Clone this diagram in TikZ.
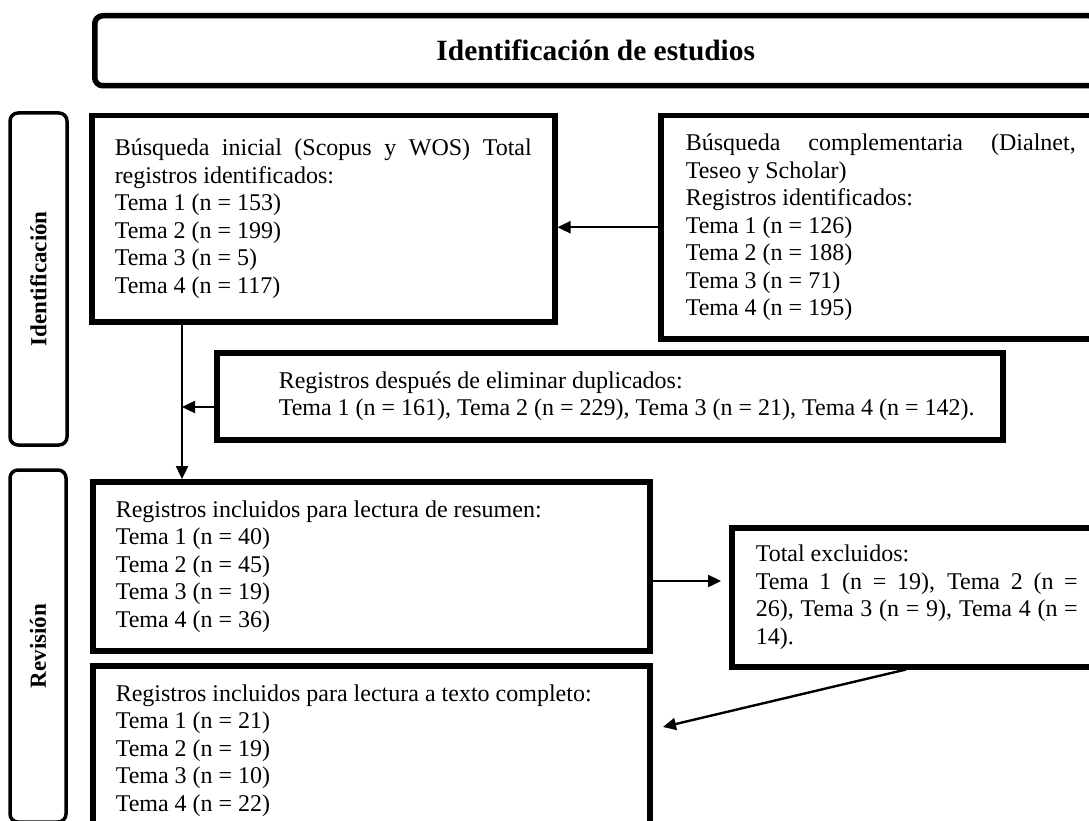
\documentclass[tikz,border=0pt]{standalone}
\usepackage{fontspec}
\setmainfont{Liberation Serif}
\usetikzlibrary{arrows.meta,calc}
\newcommand{\jline}[2]{\makebox[#1][s]{\spaceskip=0pt\xspaceskip=0pt\relax #2}}

\begin{document}
\begin{tikzpicture}[x=1pt, y=-1pt,
  caja/.style={draw, line width=5.5pt, rectangle, anchor=north west, inner ysep=0pt, font=\fontsize{24}{27.5}\selectfont,
    execute at begin node={\spaceskip=0pt\xspaceskip=0pt\relax}},
  fase/.style={draw, line width=3.5pt, rounded corners=8pt, rotate=90, inner sep=0pt, font=\bfseries\fontsize{23}{26}\selectfont},
  flecha/.style={line width=2.4pt, -{Triangle[length=13pt,width=12pt]}}]
\useasboundingbox (0,0) rectangle (1089,821);
\clip (0,0) rectangle (1089,821);

\node[draw, line width=5.5pt, rounded corners=8pt, anchor=north west, minimum width=1002pt, minimum height=70pt, font=\bfseries\fontsize{29.4}{34}\selectfont] (titulo) at (92,13) {Identificación de estudios};
\node[fase, minimum width=332pt, minimum height=57pt] (ident) at (38.5,279) {Identificación};
\node[fase, minimum width=352pt, minimum height=56pt] (revis) at (38,646) {Revisión};

\node[caja, text width=417pt, inner xsep=23pt, minimum height=206pt] (busq) at (89,113) {\jline{417pt}{Búsqueda inicial (Scopus y WOS) Total}\\ registros identificados:\\ Tema 1 (n = 153)\\ Tema 2 (n = 199)\\ Tema 3 (n = 5)\\ Tema 4 (n = 117)};
\node[caja, text width=390pt, inner xsep=25pt, minimum height=223pt] (compl) at (658,113) {\jline{390pt}{Búsqueda complementaria (Dialnet,}\\ Teseo y Scholar)\\ Registros identificados:\\ Tema 1 (n = 126)\\ Tema 2 (n = 188)\\ Tema 3 (n = 71)\\ Tema 4 (n = 195)};
\node[caja, text width=662pt, inner xsep=62pt, minimum height=87pt] (dupl) at (214,350) {Registros después de eliminar duplicados:\\ \mbox{Tema 1 (n = 161), Tema 2 (n = 229), Tema 3 (n = 21), Tema 4 (n = 142).}};
\node[caja, text width=511pt, inner xsep=23pt, minimum height=169pt] (resumen) at (90,479) {Registros incluidos para lectura de resumen:\\ Tema 1 (n = 40)\\ Tema 2 (n = 45)\\ Tema 3 (n = 19)\\ Tema 4 (n = 36)};
\node[caja, text width=322pt, inner xsep=24pt, minimum height=139pt] (excl) at (729,525) {Total excluidos:\\ \jline{322pt}{Tema 1 (n = 19), Tema 2 (n =}\\ \jline{322pt}{26), Tema 3 (n = 9), Tema 4 (n =}\\ 14).};
\node[caja, text width=511pt, inner xsep=23pt, minimum height=169pt] (completo) at (90,663) {Registros incluidos para lectura a texto completo:\\ Tema 1 (n = 21)\\ Tema 2 (n = 19)\\ Tema 3 (n = 10)\\ Tema 4 (n = 22)};

% conectores
\coordinate (eje) at (182,407);
\coordinate (nivel) at (0,581);
\coordinate (salida) at (906,664);
\coordinate (entrada) at (663,727);
\draw[flecha] (compl.west) -- (busq.east |- compl.west);
\draw[flecha] (busq.south -| eje) -- (resumen.north -| eje);
\draw[flecha] (dupl.west |- eje) -- (eje);
\draw[flecha, shorten >=8pt] (resumen.east |- nivel) -- (excl.west |- nivel);
\draw[flecha] (excl.south west -| salida) -- (entrada);

\end{tikzpicture}
\end{document}
